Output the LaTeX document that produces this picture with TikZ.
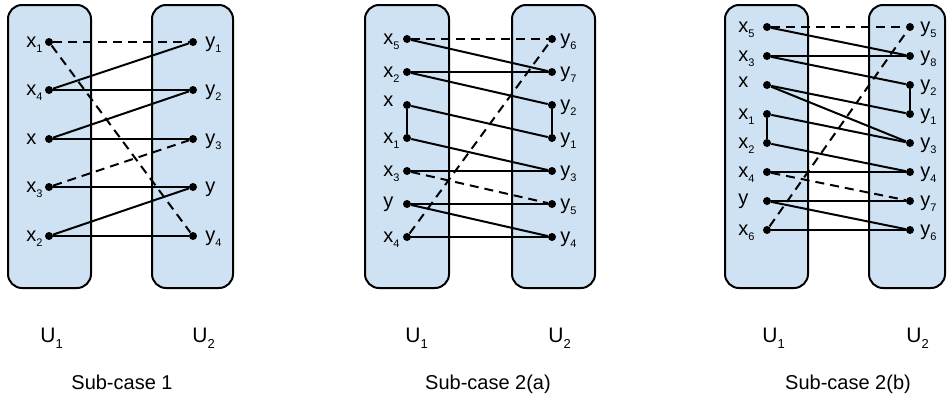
\documentclass[tikz,border=0pt]{standalone}
\usepackage{fontspec}
\setmainfont{Liberation Sans}
\usetikzlibrary{positioning}

\definecolor{setblue}{HTML}{CFE2F3}
\newcommand{\sub}[1]{\raisebox{-2.8pt}{\fontsize{5.5}{6}\selectfont #1}}
\newcommand{\usub}[1]{\raisebox{-3.2pt}{\fontsize{6.5}{7}\selectfont #1}}

\tikzset{
  set/.style={draw, line width=1pt, fill=setblue, rounded corners=7pt, minimum height=141.5pt, inner sep=0pt},
  vtx/.style={circle, fill=black, inner sep=0pt, minimum size=4pt},
  lbl/.style={anchor=mid west, inner sep=0pt, font=\fontsize{10}{12}\selectfont},
  setname/.style={anchor=base west, inner sep=0pt, font=\fontsize{10.5}{12}\selectfont},
  caption/.style={anchor=base, inner sep=0pt, font=\fontsize{10}{12}\selectfont},
  matched/.style={line width=1pt},
  altpath/.style={line width=1pt, dash pattern=on 4.5pt off 3pt},
}

\begin{document}
\begin{tikzpicture}[x=0.5pt,y=-0.5pt]
\useasboundingbox (0,0) rectangle (947,398);

\node[set, minimum width=41.5pt] (L1) at (49.5,146.5) {};
\node[set, minimum width=40.5pt] (R1) at (192.5,146.5) {};
\node[set, minimum width=42pt] (L2) at (407,146.5) {};
\node[set, minimum width=41.5pt] (R2) at (553.5,146.5) {};
\node[set, minimum width=41.5pt] (L3) at (766.5,146.5) {};
\node[set, minimum width=38pt] (R3) at (907,146.5) {};

% sub-case 1
\node[vtx] (ax1) at (49,42) {};
\node[vtx] (ax4) at (49,90) {};
\node[vtx] (ax) at (49,139) {};
\node[vtx] (ax3) at (49,187) {};
\node[vtx] (ax2) at (49,236) {};
\node[vtx] (ay1) at (193,42) {};
\node[vtx] (ay2) at (193,90) {};
\node[vtx] (ay3) at (193,139) {};
\node[vtx] (ay) at (193,187) {};
\node[vtx] (ay4) at (193,236) {};

\node[lbl] (ax1l) at (26,42) {x\sub{1}};
\node[lbl] (ax4l) at (26,90) {x\sub{4}};
\node[lbl] (axl) at (26,139) {x};
\node[lbl] (ax3l) at (26,187) {x\sub{3}};
\node[lbl] (ax2l) at (26,236) {x\sub{2}};
\node[lbl] (ay1l) at (205,42) {y\sub{1}};
\node[lbl] (ay2l) at (205,90) {y\sub{2}};
\node[lbl] (ay3l) at (205,139) {y\sub{3}};
\node[lbl] (ayl) at (205,187) {y};
\node[lbl] (ay4l) at (205,236) {y\sub{4}};

\draw[altpath] (ax1) -- (ay1);
\draw[altpath] (ax1) -- (ay4);
\draw[matched] (ax4) -- (ay1);
\draw[matched] (ax4) -- (ay2);
\draw[matched] (ax) -- (ay2);
\draw[matched] (ax) -- (ay3);
\draw[altpath] (ax3) -- (ay3);
\draw[matched] (ax3) -- (ay);
\draw[matched] (ax2) -- (ay);
\draw[matched] (ax2) -- (ay4);

% sub-case 2(a)
\node[vtx] (bx5) at (407,39) {};
\node[vtx] (bx2) at (407,72) {};
\node[vtx] (bx) at (407,105) {};
\node[vtx] (bx1) at (407,138) {};
\node[vtx] (bx3) at (407,171) {};
\node[vtx] (by) at (407,204) {};
\node[vtx] (bx4) at (407,237) {};
\node[vtx] (by6) at (552,39) {};
\node[vtx] (by7) at (552,72) {};
\node[vtx] (by2) at (552,105) {};
\node[vtx] (by1) at (552,138) {};
\node[vtx] (by3) at (552,171) {};
\node[vtx] (by5) at (552,204) {};
\node[vtx] (by4) at (552,237) {};

\node[lbl] (bx5l) at (383,39) {x\sub{5}};
\node[lbl] (bx2l) at (383,72) {x\sub{2}};
\node[lbl] (bxl) at (383,101) {x};
\node[lbl] (bx1l) at (383,138) {x\sub{1}};
\node[lbl] (bx3l) at (383,171) {x\sub{3}};
\node[lbl] (byl) at (383,202) {y};
\node[lbl] (bx4l) at (383,237) {x\sub{4}};
\node[lbl] (by6l) at (560,39) {y\sub{6}};
\node[lbl] (by7l) at (560,72) {y\sub{7}};
\node[lbl] (by2l) at (560,105) {y\sub{2}};
\node[lbl] (by1l) at (560,138) {y\sub{1}};
\node[lbl] (by3l) at (560,171) {y\sub{3}};
\node[lbl] (by5l) at (560,204) {y\sub{5}};
\node[lbl] (by4l) at (560,237) {y\sub{4}};

\draw[altpath] (bx5) -- (by6);
\draw[matched] (bx5) -- (by7);
\draw[matched] (bx2) -- (by7);
\draw[matched] (bx2) -- (by2);
\draw[matched] (by2) -- (by1);
\draw[matched] (bx) -- (by1);
\draw[matched] (bx) -- (bx1);
\draw[matched] (bx1) -- (by3);
\draw[matched] (bx3) -- (by3);
\draw[altpath] (bx3) -- (by5);
\draw[matched] (by) -- (by5);
\draw[matched] (by) -- (by4);
\draw[matched] (bx4) -- (by4);
\draw[altpath] (bx4) -- (by6);

% sub-case 2(b)
\node[vtx] (cx5) at (767,27) {};
\node[vtx] (cx3) at (767,56) {};
\node[vtx] (cx) at (767,85) {};
\node[vtx] (cx1) at (767,114) {};
\node[vtx] (cx2) at (767,143) {};
\node[vtx] (cx4) at (767,172) {};
\node[vtx] (cy) at (767,201) {};
\node[vtx] (cx6) at (767,230) {};
\node[vtx] (cy5) at (910,27) {};
\node[vtx] (cy8) at (910,56) {};
\node[vtx] (cy2) at (910,85) {};
\node[vtx] (cy1) at (910,114) {};
\node[vtx] (cy3) at (910,143) {};
\node[vtx] (cy4) at (910,172) {};
\node[vtx] (cy7) at (910,201) {};
\node[vtx] (cy6) at (910,230) {};

\node[lbl] (cx5l) at (738,27) {x\sub{5}};
\node[lbl] (cx3l) at (738,56) {x\sub{3}};
\node[lbl] (cxl) at (738,82) {x};
\node[lbl] (cx1l) at (738,114) {x\sub{1}};
\node[lbl] (cx2l) at (738,143) {x\sub{2}};
\node[lbl] (cx4l) at (738,172) {x\sub{4}};
\node[lbl] (cyl) at (738,199) {y};
\node[lbl] (cx6l) at (738,230) {x\sub{6}};
\node[lbl] (cy5l) at (920,27) {y\sub{5}};
\node[lbl] (cy8l) at (920,56) {y\sub{8}};
\node[lbl] (cy2l) at (920,85) {y\sub{2}};
\node[lbl] (cy1l) at (920,114) {y\sub{1}};
\node[lbl] (cy3l) at (920,143) {y\sub{3}};
\node[lbl] (cy4l) at (920,172) {y\sub{4}};
\node[lbl] (cy7l) at (920,201) {y\sub{7}};
\node[lbl] (cy6l) at (920,230) {y\sub{6}};

\draw[altpath] (cx5) -- (cy5);
\draw[matched] (cx5) -- (cy8);
\draw[matched] (cx3) -- (cy8);
\draw[matched] (cx3) -- (cy2);
\draw[matched] (cy2) -- (cy1);
\draw[matched] (cx) -- (cy1);
\draw[matched] (cx) -- (cy3);
\draw[matched] (cx1) -- (cy3);
\draw[matched] (cx1) -- (cx2);
\draw[matched] (cx2) -- (cy4);
\draw[matched] (cx4) -- (cy4);
\draw[altpath] (cx4) -- (cy7);
\draw[matched] (cy) -- (cy7);
\draw[matched] (cy) -- (cy6);
\draw[matched] (cx6) -- (cy6);
\draw[altpath] (cx6) -- (cy5);

% set names and captions
\node[setname] (U11) at (40,342) {U\usub{1}};
\node[setname] (U12) at (192,342) {U\usub{2}};
\node[setname] (U21) at (405,342) {U\usub{1}};
\node[setname] (U22) at (548,342) {U\usub{2}};
\node[setname] (U31) at (762,342) {U\usub{1}};
\node[setname] (U32) at (906,342) {U\usub{2}};

\node[caption] (C1) at (122,389) {Sub-case 1};
\node[caption] (C2) at (488,389) {Sub-case 2(a)};
\node[caption] (C3) at (848,389) {Sub-case 2(b)};

\end{tikzpicture}
\end{document}
